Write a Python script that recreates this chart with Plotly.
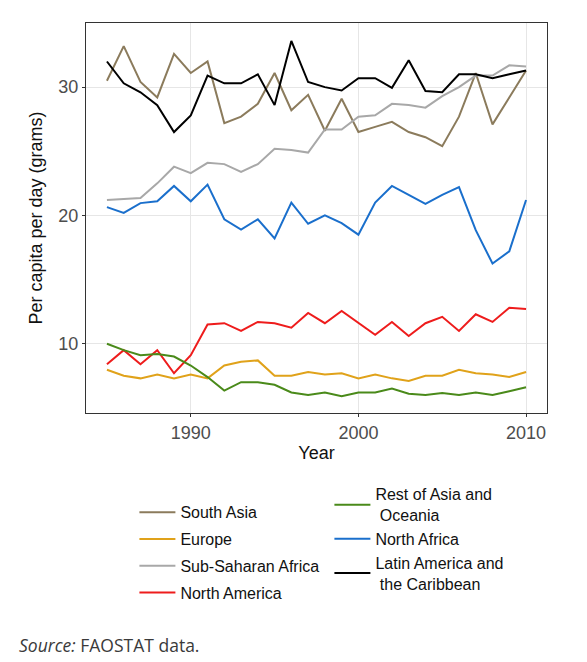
import plotly.graph_objects as go

years = list(range(1985, 2011))

south_asia = [30.5, 33.2, 30.4, 29.2, 32.6, 31.1, 32.0, 27.2, 27.7, 28.7, 31.1, 28.2, 29.4,
              26.6, 29.1, 26.5, 26.9, 27.3, 26.5, 26.1, 25.4, 27.7, 31.1, 27.1, 29.2, 31.3]
europe = [7.97, 7.5, 7.3, 7.6, 7.3, 7.6, 7.3, 8.3, 8.6, 8.7, 7.5, 7.5, 7.8,
          7.6, 7.7, 7.3, 7.6, 7.3, 7.1, 7.5, 7.5, 7.97, 7.7, 7.6, 7.4, 7.8]
sub_saharan = [21.2, 21.3, 21.35, 22.5, 23.8, 23.3, 24.1, 24.0, 23.4, 24.0, 25.2, 25.1, 24.9,
               26.7, 26.7, 27.7, 27.8, 28.7, 28.6, 28.4, 29.3, 30.0, 30.9, 30.9, 31.7, 31.6]
north_america = [8.4, 9.5, 8.4, 9.5, 7.7, 9.1, 11.5, 11.6, 11.0, 11.7, 11.6, 11.25, 12.4,
                 11.6, 12.55, 11.6, 10.7, 11.7, 10.6, 11.6, 12.1, 11.0, 12.3, 11.7, 12.8, 12.7]
rest_asia = [10.0, 9.5, 9.1, 9.2, 9.0, 8.3, 7.4, 6.35, 7.0, 7.0, 6.8, 6.2, 6.0,
             6.2, 5.9, 6.2, 6.2, 6.5, 6.1, 6.0, 6.15, 6.0, 6.2, 6.0, 6.3, 6.6]
north_africa = [20.65, 20.2, 20.96, 21.1, 22.3, 21.1, 22.4, 19.7, 18.9, 19.7, 18.2, 21.0, 19.35,
                20.0, 19.4, 18.5, 21.0, 22.3, 21.6, 20.9, 21.6, 22.2, 18.85, 16.25, 17.2, 21.2]
latin_america = [32.0, 30.3, 29.6, 28.6, 26.5, 27.8, 30.9, 30.3, 30.3, 31.0, 28.6, 33.6, 30.4,
                 30.0, 29.74, 30.7, 30.7, 29.95, 32.1, 29.7, 29.6, 31.0, 31.0, 30.7, 31.0, 31.3]

# (name, values, colour, legend column)
series = [
    ("South Asia", south_asia, "#8b7b5c", "legend"),
    ("Europe", europe, "#e0a21a", "legend"),
    ("Sub-Saharan Africa", sub_saharan, "#a8a8a8", "legend"),
    ("North America", north_america, "#ee1c1c", "legend"),
    ("Rest of Asia and<br> Oceania", rest_asia, "#4a8a1a", "legend2"),
    ("North Africa", north_africa, "#1a6fcc", "legend2"),
    ("Latin America and<br> the Caribbean", latin_america, "#000000", "legend2"),
]

fig = go.Figure()
for name, vals, col, leg in series:
    fig.add_trace(go.Scatter(x=years, y=vals, mode="lines", name=name,
                             line=dict(color=col, width=2),
                             legend=leg, legendgroup=name))

axis_common = dict(showline=True, linecolor="#333333", linewidth=1, mirror=True,
                   showgrid=True, gridcolor="#e6e6e6", gridwidth=1,
                   ticks="outside", ticklen=3, tickcolor="#333333",
                   tickfont=dict(size=18, color="#4d4d4d"), zeroline=False)

fig.update_xaxes(range=[1983.75, 2011.25], tickvals=[1990, 2000, 2010],
                 title=dict(text="Year", font=dict(size=18, color="#111111"), standoff=4),
                 **axis_common)
fig.update_yaxes(range=[4.6, 35.0], tickvals=[10, 20, 30],
                 title=dict(text="Per capita per day (grams)", font=dict(size=18, color="#111111"),
                            standoff=11),
                 **axis_common)

# page body has an 8px margin, so the layout below is shifted up/left by 8px
fig.add_annotation(text="<i>Source:</i> FAOSTAT data.", xref="paper", yref="paper",
                   x=-0.1497, y=-0.595, xanchor="left", yanchor="middle", showarrow=False,
                   font=dict(family="Open Sans", size=17.5, color="#3a3a3a"))

fig.update_layout(
    width=587, height=662,
    margin=dict(l=78, r=48, t=15, b=257),
    plot_bgcolor="white", paper_bgcolor="white",
    font=dict(family="Liberation Sans, Arial, sans-serif", size=16, color="#111111"),
    legend=dict(x=0.105, y=-0.211, xanchor="left", yanchor="top", orientation="v",
                tracegroupgap=3, itemwidth=36, font=dict(size=16), bgcolor="rgba(0,0,0,0)"),
    legend2=dict(x=0.528, y=-0.165, xanchor="left", yanchor="top", orientation="v",
                 tracegroupgap=0, itemwidth=36, font=dict(size=16), bgcolor="rgba(0,0,0,0)"),
)

fig.write_html("out.html")
